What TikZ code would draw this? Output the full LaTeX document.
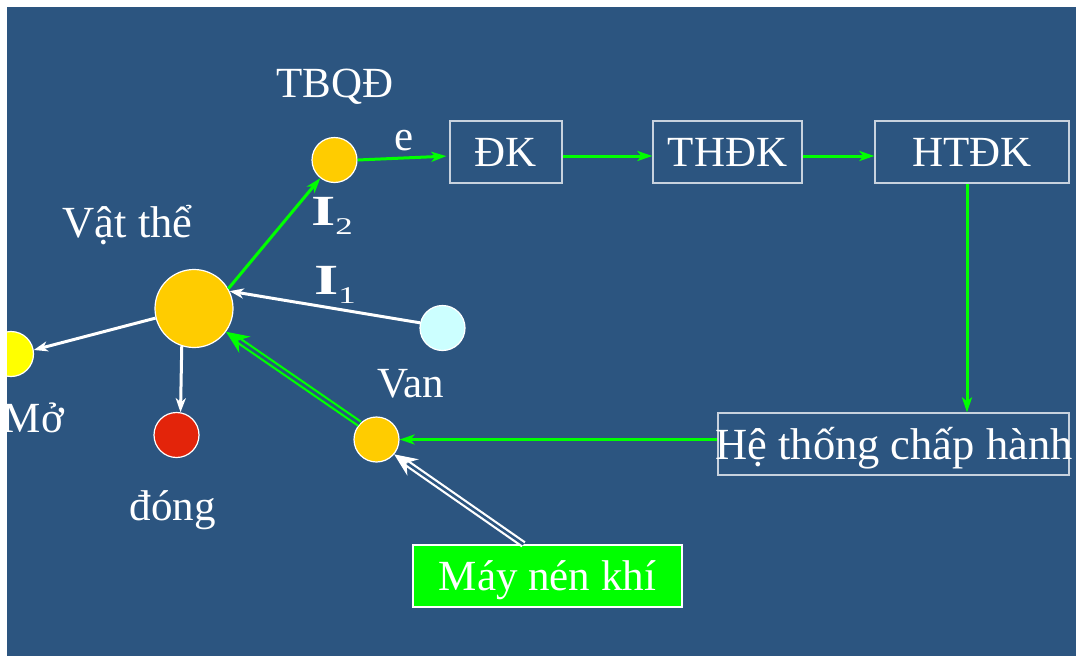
\documentclass[tikz,border=0pt]{standalone}
\usepackage{fontspec}
\usepackage{graphicx}
\setmainfont{Liberation Serif}
\usetikzlibrary{arrows.meta,calc}
\definecolor{bgblue}{RGB}{44,85,128}
\definecolor{ballyellow}{RGB}{255,204,0}
\definecolor{ballcyan}{RGB}{204,255,255}
\definecolor{ballred}{RGB}{227,36,10}
\definecolor{ballopen}{RGB}{255,255,0}
\definecolor{sig}{RGB}{0,255,0}
\definecolor{frame}{RGB}{200,210,222}
\newcommand{\labelfont}{\fontsize{43}{50}\selectfont}
\newcommand{\widefont}{\fontsize{44.5}{50}\selectfont}
\newcommand{\curr}[1]{\scalebox{1.45}[1]{\textbf{I}\raisebox{-9pt}{\fontsize{24}{24}\selectfont #1}}}
% solid head for a double pipe: #1 colour, #2 start, #3 tip
\newcommand{\pipehead}[3]{%
  \fill[#1] (#3) -- ($($(#3)!23pt!(#2)$)!10pt!90:(#3)$)
        -- ($(#3)!15pt!(#2)$)
        -- ($($(#3)!23pt!(#2)$)!10pt!-90:(#3)$) -- cycle;}
\tikzset{
  ball/.style={circle, draw=white, line width=1.2pt, inner sep=0pt},
  stepbox/.style={draw=frame, line width=1.3pt, minimum height=62pt, inner sep=0pt,
                  text height=29pt, text depth=0pt, text=white, font=\labelfont},
  lbl/.style={text=white, font=\labelfont, inner sep=0pt},
  garrow/.style={draw=sig, line width=3pt, -{Stealth[length=15pt,width=10pt,inset=4pt]}},
  warrow/.style={draw=white, line width=3pt, -{Stealth[length=14pt,width=10pt,inset=4pt]}},
  pipe/.style={line width=2.2pt, double=bgblue, double distance=2.6pt, shorten >=16pt},
}
\begin{document}
\begin{tikzpicture}[x=1pt,y=-1pt]
\useasboundingbox (0,0) rectangle (1076,656);
\fill[white] (0,0) rectangle (1076,656);
\fill[bgblue] (7,7) rectangle (1076,656);
\begin{scope}
\clip (7,7) rectangle (1076,656);

% balls
\node[ball, fill=ballyellow, minimum size=78pt] (obj) at (194,308.5) {};
\node[ball, fill=ballyellow, minimum size=45pt] (tbqd) at (334.5,160) {};
\node[ball, fill=ballcyan, minimum size=45pt] (src) at (442.5,328) {};
\node[ball, fill=ballyellow, minimum size=45pt] (van) at (376.5,439.5) {};
\node[ball, fill=ballred, minimum size=45pt] (dong) at (176.5,435) {};
\node[ball, fill=ballopen, minimum size=45pt] (mo) at (11,354) {};

% blocks
\node[stepbox, minimum width=112pt] (dk) at (506,152) {ĐK};
\node[stepbox, minimum width=149pt] (thdk) at (727.5,152) {THĐK};
\node[stepbox, minimum width=194pt] (htdk) at (972,152) {HTĐK};
\node[stepbox, minimum width=351pt] (he) at (893.5,444) {};
\node[lbl, font=\widefont, anchor=base] (hetext) at (894,459) {Hệ thống chấp hành};
\node[stepbox, draw=white, fill=sig, minimum width=269pt] (may) at (547.5,576) {Máy nén khí};

% labels
\node[lbl, anchor=base] (tbqdl) at (335,97) {TBQĐ};
\node[lbl, font=\widefont, anchor=base] (objl) at (127.5,237) {Vật thể};
\node[lbl, anchor=base] (vanl) at (411,397) {Van};
\node[lbl, anchor=base east] (mol) at (64,432) {Mở};
\node[lbl, anchor=base] (dongl) at (172.5,520) {đóng};
\node[lbl, anchor=base] (el) at (404.5,150) {e};
\node[lbl, anchor=base west] (i2) at (311,225) {\curr{2}};
\node[lbl, anchor=base west] (i1) at (314,294) {\curr{1}};

% signal chain
\draw[garrow, shorten >=3pt] (tbqd.east) -- ([yshift=-4pt]dk.west);
\draw[garrow] ([yshift=-4pt]dk.east) -- ([yshift=-4pt]thdk.west);
\draw[garrow] ([yshift=-4pt]thdk.east) -- ([yshift=-4pt]htdk.west);
\draw[garrow] ([xshift=-5pt]htdk.south) -- ([xshift=-5pt]htdk.south |- he.north);
\draw[garrow] (he.west |- van.east) -- (van.east);
\draw[garrow] (obj.30) -- (tbqd.232);

% object links
\draw[warrow] (src.167) -- (obj.26);
\draw[warrow] (obj.194) -- (mo.10);
\draw[warrow] (obj.-108) -- (dong.80);

% pneumatic lines
\coordinate (gS) at (van.137);
\coordinate (gT) at (obj.-36);
\coordinate (wS) at ([xshift=-24pt]may.north);
\coordinate (wT) at (van.-40);
\draw[pipe, draw=sig] (gS) -- (gT);
\pipehead{sig}{gS}{gT}
\draw[pipe, draw=white] (wS) -- (wT);
\pipehead{white}{wS}{wT}
\end{scope}
\end{tikzpicture}
\end{document}
